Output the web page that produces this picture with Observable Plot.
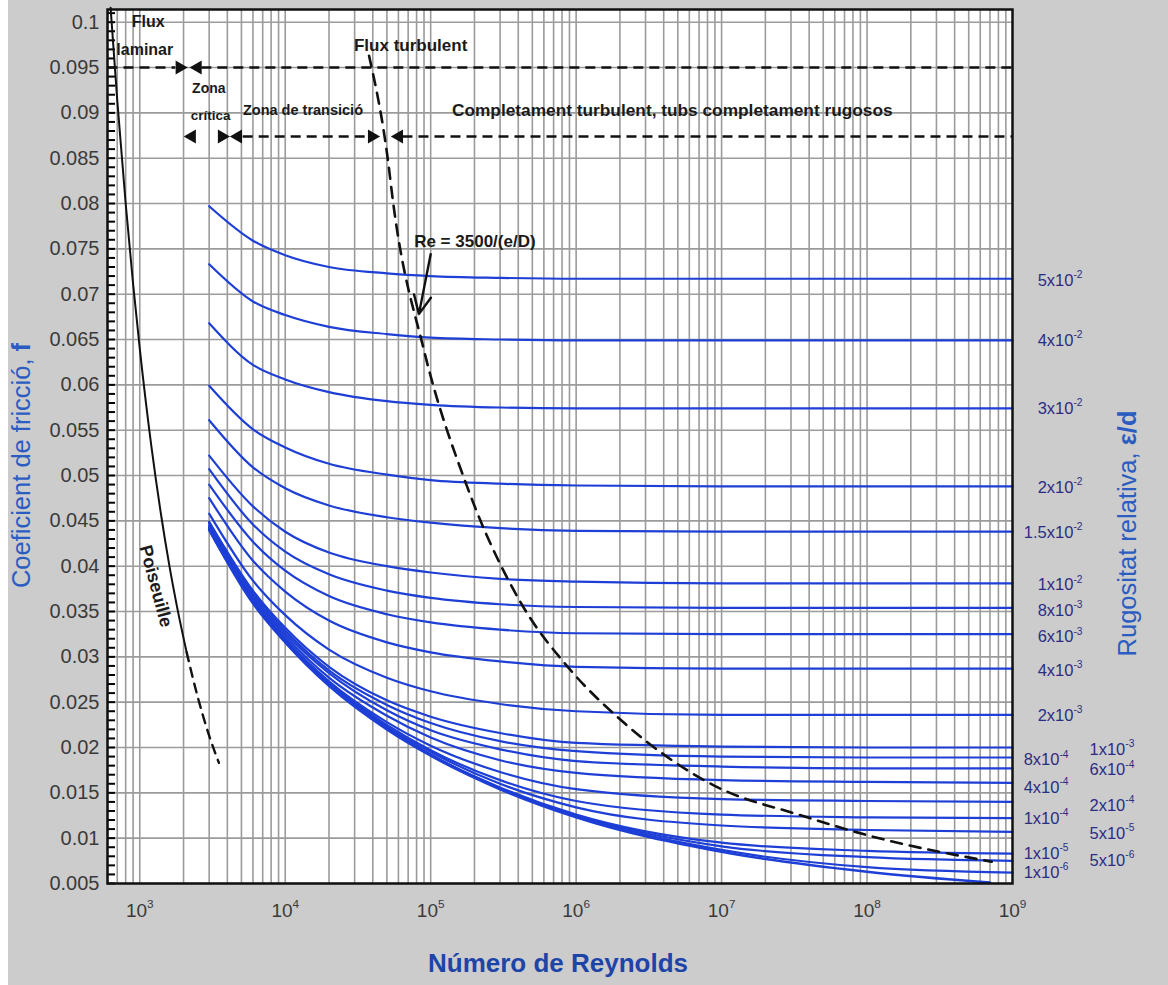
<!DOCTYPE html>
<html><head><meta charset="utf-8">
<script src="https://cdn.jsdelivr.net/npm/d3@7"></script>
<script src="https://cdn.jsdelivr.net/npm/@observablehq/plot@0.6"></script>
<style>
body{margin:0;background:#fff;}
#chart{margin-left:8px;width:1160px;height:985px;background:#cccccc;}
</style></head><body><div id="chart"></div>
<script>
// ---- data ----
const reynolds       = [3e3, 6e3, 1e4, 2e4, 5e4, 1e5, 3e5, 1e6, 1e7, 1e8, 1e9];
const reynoldsSmooth = [3e3, 6e3, 1e4, 2e4, 5e4, 1e5, 3e5, 1e6, 1e7, 1e8, 7e8];
const roughness = ["5x10^-2","4x10^-2","3x10^-2","2x10^-2","1.5x10^-2","1x10^-2","8x10^-3","6x10^-3","4x10^-3","2x10^-3",
                   "1x10^-3","8x10^-4","6x10^-4","4x10^-4","2x10^-4","1x10^-4","5x10^-5","1x10^-5","5x10^-6","1x10^-6"];
const friction = [
  [0.0797,0.0759,0.0743,0.0730,0.0723,0.0720,0.0718,0.0717,0.0717,0.0717,0.0717],
  [0.0733,0.0692,0.0677,0.0664,0.0656,0.0652,0.0650,0.0649,0.0649,0.0649,0.0649],
  [0.0668,0.0622,0.0606,0.0592,0.0582,0.0578,0.0575,0.0574,0.0574,0.0574,0.0574],
  [0.0599,0.0551,0.0531,0.0513,0.0501,0.0495,0.0491,0.0489,0.0488,0.0488,0.0488],
  [0.0561,0.0509,0.0486,0.0467,0.0454,0.0448,0.0442,0.0439,0.0438,0.0438,0.0438],
  [0.0522,0.0466,0.0438,0.0415,0.0400,0.0393,0.0386,0.0383,0.0381,0.0381,0.0381],
  [0.0507,0.0446,0.0416,0.0391,0.0373,0.0365,0.0358,0.0355,0.0354,0.0354,0.0354],
  [0.0490,0.0427,0.0395,0.0367,0.0347,0.0338,0.0330,0.0326,0.0325,0.0325,0.0325],
  [0.0475,0.0406,0.0372,0.0340,0.0316,0.0305,0.0295,0.0289,0.0287,0.0287,0.0287],
  [0.0458,0.0384,0.0346,0.0308,0.0277,0.0262,0.0248,0.0240,0.0236,0.0236,0.0236],
  [0.0449,0.0373,0.0332,0.0289,0.0252,0.0234,0.0216,0.0205,0.0201,0.0200,0.0200],
  [0.0448,0.0371,0.0329,0.0285,0.0247,0.0227,0.0207,0.0196,0.0190,0.0189,0.0189],
  [0.0447,0.0368,0.0326,0.0282,0.0241,0.0219,0.0198,0.0185,0.0179,0.0177,0.0177],
  [0.0445,0.0366,0.0323,0.0277,0.0235,0.0211,0.0186,0.0172,0.0164,0.0162,0.0161],
  [0.0443,0.0363,0.0320,0.0273,0.0228,0.0202,0.0173,0.0154,0.0143,0.0141,0.0140],
  [0.0443,0.0362,0.0318,0.0271,0.0225,0.0197,0.0164,0.0141,0.0126,0.0123,0.0122],
  [0.0442,0.0361,0.0318,0.0270,0.0223,0.0195,0.0160,0.0134,0.0114,0.0109,0.0107],
  [0.0441,0.0361,0.0317,0.0269,0.0221,0.0192,0.0156,0.0126,0.0095,0.0086,0.0083],
  [0.0441,0.0360,0.0317,0.0269,0.0221,0.0192,0.0155,0.0125,0.0091,0.0079,0.0075],
  [0.0440,0.0360,0.0317,0.0269,0.0221,0.0192,0.0155,0.0124,0.0087,0.0068,0.0062]
];
const frictionSmooth = [0.0440,0.0359,0.0316,0.0268,0.0220,0.0191,0.0154,0.0123,0.0085,0.0063,0.0051];

// labels on the right: value of f where each label sits, and its column
const labelF      = [0.0715,0.0649,0.0574,0.0487,0.0437,0.0379,0.0351,0.0322,0.0285,0.0235,
                     0.0198,0.0186,0.0175,0.0156,0.0136,0.0122,0.0105,0.0083,0.0075,0.0062];
const labelColumn = ["a","a","a","a","a","a","a","a","a","a","c","b","c","b","c","b","c","b","c","b"];

// laminar (Poiseuille) line
const laminarRe  = [630, 700, 800, 900, 1000, 1200, 1400, 1600, 1800, 2100];
const laminarF   = [0.1016,0.0914,0.0800,0.0711,0.0640,0.0533,0.0457,0.0400,0.0356,0.0305];
const laminarDashRe = [2100, 2500, 3000, 3500];
const laminarDashF  = [0.0305, 0.0256, 0.0213, 0.0183];

// Re = 3500/(e/D) boundary line
const turbRe = [3.77e4, 5.09e4, 5.5e4, 9.0e4, 1.75e5, 4.19e5, 8.97e5, 2.04e6, 8.9e6, 3.54e7, 1.02e8, 7.2e8];
const turbF  = [0.0963, 0.0847, 0.0803, 0.0638, 0.0491, 0.0359, 0.0287, 0.0230, 0.0158, 0.0125, 0.0103, 0.0074];

// zone boundary dashed lines and arrowheads
const zoneLines = [
  {re1: 600,   re2: 1750, f: 0.0950},
  {re1: 2650,  re2: 1e9,  f: 0.0950},
  {re1: 5100,  re2: 3.7e4, f: 0.0874},
  {re1: 6.4e4, re2: 1e9,  f: 0.0874}
];
const zoneArrows = [
  {re: 1880, f: 0.0950, dir: 90}, {re: 2500, f: 0.0950, dir: -90},
  {re: 2280, f: 0.0874, dir: -90}, {re: 3670, f: 0.0874, dir: 90}, {re: 4730, f: 0.0874, dir: -90},
  {re: 3.95e4, f: 0.0874, dir: 90}, {re: 6.05e4, f: 0.0874, dir: -90}
];
const notes = [
  {re: 880,   f: 0.1000, text: "Flux"},
  {re: 690,   f: 0.0969, text: "laminar"},
  {re: 2290,  f: 0.0927, text: "Zona"},
  {re: 2240,  f: 0.0897, text: "crítica"},
  {re: 5120,  f: 0.0903, text: "Zona de transició"},
  {re: 2.97e4, f: 0.0974, text: "Flux turbulent"},
  {re: 1.4e5, f: 0.0903, text: "Completament turbulent, tubs completament rugosos"},
  {re: 7.7e4, f: 0.0758, text: "Re = 3500/(e/D)"}
];
const reArrow = [{re1: 1.0e5, f1: 0.0744, re2: 8.3e4, f2: 0.0678}];
const poiseuilleNote = [{re: 1290, f: 0.0378, text: "Poiseuille"}];

const yTicks = [0.005,0.01,0.015,0.02,0.025,0.03,0.035,0.04,0.045,0.05,0.055,0.06,0.065,0.07,0.075,0.08,0.085,0.09,0.095,0.1];
const xTicks = [1e3,1e4,1e5,1e6,1e7,1e8,1e9];

// ---- build tables ----
const curveRows = roughness.flatMap((r, i) => reynolds.map((re, j) => ({series: r, re, f: friction[i][j]})));
const smoothRows = reynoldsSmooth.map((re, j) => ({series: "smooth", re, f: frictionSmooth[j]}));
const labelRows = roughness.map((r, i) => ({text: r, f: labelF[i], col: labelColumn[i]}));
const lamRows = laminarRe.map((re, i) => ({re, f: laminarF[i]}));
const lamDashRows = laminarDashRe.map((re, i) => ({re, f: laminarDashF[i]}));
const turbRows = turbRe.map((re, i) => ({re, f: turbF[i]}));
const gridRe = d3.merge(d3.range(2, 9).map(k => d3.range(1, 10).map(m => m * 10 ** k))).filter(v => v >= 600 && v <= 1e9);
const yMinor = d3.range(5, 102).map(i => i / 1000);

const blue = "#1e3fd6";
const labelBlue = "#2c2c82";
const font = "'Liberation Sans', Arial, sans-serif";
const noteSize = {"Flux": 16, "laminar": 16, "Zona": 14, "crítica": 13.5, "Zona de transició": 14.5,
                  "Flux turbulent": 17, "Completament turbulent, tubs completament rugosos": 17.3, "Re = 3500/(e/D)": 17};

const svg = Plot.plot({
  width: 1160, height: 985,
  marginLeft: 99, marginRight: 156, marginTop: 9, marginBottom: 102,
  style: {background: "#cccccc", fontFamily: font, overflow: "visible"},
  x: {type: "log", domain: [600, 1e9]},
  y: {domain: [0.005, 0.1014]},
  marks: [
    Plot.frame({fill: "white", stroke: null}),
    Plot.ruleX(gridRe, {stroke: "#9b9b9b", strokeWidth: 1.6}),
    Plot.ruleY(yTicks, {stroke: "#9b9b9b", strokeWidth: 1.6}),
    Plot.axisY({ticks: yMinor, tickSize: 8, dx: 8, strokeWidth: 2, tickFormat: () => "", label: null}),
    Plot.axisY({ticks: yTicks, tickSize: 0, tickPadding: 8, fontSize: 20, fill: "#3a3a3a",
                tickFormat: d => d3.format(".3~f")(d), label: null}),
    Plot.axisX({ticks: xTicks, tickSize: 0, tickPadding: 20, fontSize: 19, fill: "#3a3a3a",
                tickFormat: d => "10^" + Math.round(Math.log10(d)), label: null}),
    // zone lines
    Plot.link(zoneLines, {x1: "re1", x2: "re2", y1: "f", y2: "f", stroke: "#111", strokeWidth: 2.5, strokeDasharray: "10,6"}),
    Plot.dot(zoneArrows, {x: "re", y: "f", symbol: "triangle", r: 5.2, fill: "#111", rotate: "dir"}),
    // friction curves
    Plot.line(curveRows, {x: "re", y: "f", z: "series", stroke: blue, strokeWidth: 2.2, curve: "monotone-x"}),
    Plot.line(smoothRows, {x: "re", y: "f", stroke: blue, strokeWidth: 2.6, curve: "monotone-x"}),
    // laminar
    Plot.line(lamRows, {x: "re", y: "f", stroke: "#111", strokeWidth: 2, curve: "monotone-x"}),
    Plot.line(lamDashRows, {x: "re", y: "f", stroke: "#111", strokeWidth: 2.4, strokeDasharray: "9,7", curve: "monotone-x"}),
    // turbulent limit
    Plot.line(turbRows, {x: "re", y: "f", stroke: "#111", strokeWidth: 2.6, strokeDasharray: "11,8", curve: "monotone-x"}),
    Plot.arrow(reArrow, {x1: "re1", y1: "f1", x2: "re2", y2: "f2", stroke: "#111", strokeWidth: 2.4, headLength: 14, headAngle: 50}),
    // annotations
    Plot.text(notes, {x: "re", y: "f", text: "text", textAnchor: "start", fontSize: d => noteSize[d.text], fontWeight: "bold", fill: "#1a1a1a"}),
    Plot.text(poiseuilleNote, {x: "re", y: "f", text: "text", rotate: 75, fontSize: 18, fontWeight: "bold", fill: "#1a1a1a"}),
    // right-hand roughness labels
    Plot.text(labelRows.filter(d => d.col === "a"), {x: () => 1e9, y: "f", text: "text", textAnchor: "end", dx: 70, fontSize: 16.5, fill: labelBlue}),
    Plot.text(labelRows.filter(d => d.col === "b"), {x: () => 1e9, y: "f", text: "text", textAnchor: "end", dx: 56, fontSize: 16.5, fill: labelBlue}),
    Plot.text(labelRows.filter(d => d.col === "c"), {x: () => 1e9, y: "f", text: "text", textAnchor: "start", dx: 77, fontSize: 16.5, fill: labelBlue}),
    // axis titles
    Plot.text(["Coeficient de fricció, |f|"], {frameAnchor: "left", textAnchor: "middle", dx: -86, dy: 19, rotate: -90, fontSize: 25.5, fill: "#2b5cc2"}),
    Plot.text(["Rugositat relativa, |ε/d|"], {frameAnchor: "right", textAnchor: "middle", dx: 115, dy: 87, rotate: -90, fontSize: 25.5, fill: "#2b5cc2"}),
    Plot.text(["Número de Reynolds"], {frameAnchor: "bottom", textAnchor: "middle", dx: -2, dy: 88, fontSize: 26, fontWeight: "bold", fill: "#1d45a8"}),
    Plot.frame({stroke: "#111", strokeWidth: 2.5})
  ]
});

// rich text: ^sup and |bold|
const NS = "http://www.w3.org/2000/svg";
svg.querySelectorAll("text").forEach(el => {
  const s = el.textContent;
  if (!/[\^|]/.test(s)) return;
  while (el.firstChild) el.removeChild(el.firstChild);
  const re = /\^(\S+)|\|([^|]+)\|/g;
  let last = 0, m;
  const add = (txt, kind) => {
    const ts = document.createElementNS(NS, "tspan");
    ts.textContent = txt;
    if (kind === "sup") { ts.setAttribute("font-size", "0.62em"); ts.setAttribute("dy", "-0.75em"); }
    if (kind === "bold") { ts.setAttribute("font-weight", "bold"); }
    el.appendChild(ts);
  };
  while ((m = re.exec(s))) {
    if (m.index > last) add(s.slice(last, m.index));
    if (m[1] !== undefined) add(m[1], "sup"); else add(m[2], "bold");
    last = re.lastIndex;
  }
  if (last < s.length) add(s.slice(last));
});

document.getElementById("chart").appendChild(svg);
</script></body></html>
